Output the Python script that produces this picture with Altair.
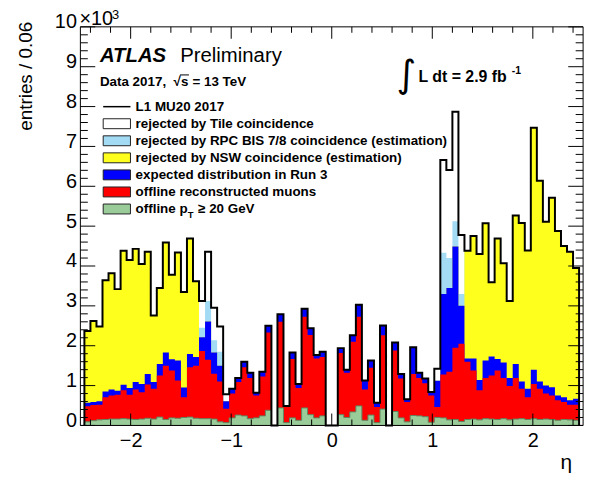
import altair as alt
import numpy as np
import pandas as pd

FONT = "Liberation Sans"

# ---------------- data: entries per 0.06 in eta, units of 10^3 ----------------
# black outline: L1 MU20 2017
total = [
    2.37, 2.62, 2.48, 3.64, 3.82, 3.42, 4.38, 4.15, 4.43, 4.05,
    4.36, 2.76, 3.45, 4.59, 3.78, 4.34, 3.35, 4.69, 3.62, 3.12,
    4.36, 2.95, 2.48, 0.78, 0.92, 1.19, 1.60, 1.32, 0.82, 1.35,
    2.50, 0.00, 2.79, 0.49, 1.83, 1.04, 2.93, 2.44, 1.77, 1.85,
    0.00, 0.00, 1.94, 1.40, 2.26, 3.03, 1.13, 1.63, 0.57, 2.51,
    0.00, 2.08, 1.29, 0.66, 1.96, 1.32, 1.18, 0.84, 1.42, 6.66,
    6.41, 7.87, 4.78, 4.38, 4.75, 4.30, 5.07, 3.59, 4.69, 4.07,
    3.12, 5.27, 5.08, 4.39, 7.47, 6.14, 5.11, 5.71, 4.88, 4.50,
    4.36, 3.95]
# after Tile coincidence (top of the RPC BIS 7/8 hatched band)
after_tile = [
    2.37, 2.62, 2.48, 3.64, 3.82, 3.42, 4.38, 4.15, 4.43, 4.05,
    4.36, 2.76, 3.45, 4.59, 3.78, 4.34, 3.35, 4.69, 3.62, 2.45,
    3.12, 2.14, 1.85, 0.61, 0.92, 1.19, 1.60, 1.32, 0.82, 1.35,
    2.50, 0.00, 2.79, 0.49, 1.83, 1.04, 2.93, 2.44, 1.77, 1.85,
    0.00, 0.00, 1.94, 1.40, 2.26, 3.03, 1.13, 1.63, 0.57, 2.51,
    0.00, 2.08, 1.29, 0.66, 1.96, 1.32, 1.18, 0.84, 1.12, 4.33,
    4.20, 5.12, 3.30, 4.38, 4.75, 4.30, 5.07, 3.59, 4.69, 4.07,
    3.12, 5.27, 5.08, 4.39, 7.47, 6.14, 5.11, 5.71, 4.88, 4.50,
    4.36, 3.95]
# after RPC BIS 7/8 coincidence (top of the NSW yellow band)
after_bis = [
    2.37, 2.62, 2.48, 3.64, 3.82, 3.42, 4.38, 4.15, 4.43, 4.05,
    4.36, 2.76, 3.45, 4.59, 3.78, 4.34, 3.35, 4.69, 3.62, 2.21,
    2.61, 1.83, 1.50, 0.61, 0.92, 1.19, 1.60, 1.32, 0.82, 1.35,
    2.50, 0.00, 2.79, 0.49, 1.83, 1.04, 2.93, 2.44, 1.77, 1.85,
    0.00, 0.00, 1.94, 1.40, 2.26, 3.03, 1.13, 1.63, 0.57, 2.51,
    0.00, 2.08, 1.29, 0.66, 1.96, 1.32, 1.18, 0.84, 1.12, 3.30,
    3.45, 4.49, 3.00, 4.38, 4.75, 4.30, 5.07, 3.59, 4.69, 4.07,
    3.12, 5.27, 5.08, 4.39, 7.47, 6.14, 5.11, 5.71, 4.88, 4.50,
    4.36, 3.95]
# expected distribution in Run 3
run3 = [
    0.57, 0.59, 0.61, 0.85, 0.90, 0.87, 1.02, 0.94, 1.09, 1.04,
    1.29, 1.09, 1.54, 1.83, 1.66, 1.63, 0.95, 1.79, 1.72, 2.21,
    2.61, 1.83, 1.50, 0.61, 0.92, 1.19, 1.60, 1.32, 0.82, 1.35,
    2.50, 0.00, 2.79, 0.49, 1.83, 1.04, 2.93, 2.44, 1.77, 1.85,
    0.00, 0.00, 1.94, 1.40, 2.26, 3.03, 1.13, 1.63, 0.57, 2.51,
    0.00, 2.08, 1.29, 0.66, 1.96, 1.32, 1.18, 0.84, 1.12, 3.30,
    3.45, 4.49, 3.00, 1.68, 1.68, 1.14, 1.63, 1.73, 1.67, 1.58,
    1.19, 1.54, 1.10, 0.92, 1.40, 1.10, 1.00, 0.96, 0.75, 0.71,
    0.63, 0.67]
# offline reconstructed muons
offline = [
    0.48, 0.51, 0.52, 0.71, 0.75, 0.77, 0.88, 0.77, 0.90, 0.83,
    1.03, 0.92, 1.25, 1.50, 1.38, 1.13, 0.71, 1.46, 1.50, 1.87,
    1.65, 1.30, 1.10, 0.42, 0.80, 1.09, 1.46, 1.19, 0.75, 1.23,
    2.33, 0.00, 2.60, 0.46, 1.67, 0.94, 2.73, 2.27, 1.68, 1.72,
    0.00, 0.00, 1.82, 1.32, 2.10, 2.73, 0.90, 1.45, 0.46, 2.26,
    0.00, 1.88, 1.18, 0.59, 1.29, 1.19, 1.06, 0.75, 0.46, 1.28,
    1.35, 1.95, 2.05, 1.60, 1.38, 0.88, 1.19, 1.25, 1.38, 1.19,
    0.99, 1.19, 0.92, 0.71, 1.04, 0.92, 0.80, 0.75, 0.63, 0.59,
    0.52, 0.52]
# offline pT >= 20 GeV
offline_pt20 = [
    0.09, 0.12, 0.14, 0.15, 0.16, 0.16, 0.17, 0.16, 0.15, 0.16,
    0.18, 0.16, 0.21, 0.15, 0.19, 0.18, 0.20, 0.21, 0.18, 0.17,
    0.17, 0.16, 0.09, 0.07, 0.19, 0.26, 0.24, 0.17, 0.19, 0.24,
    0.38, 0.00, 0.44, 0.07, 0.19, 0.13, 0.44, 0.27, 0.19, 0.24,
    0.00, 0.00, 0.27, 0.20, 0.34, 0.49, 0.13, 0.26, 0.07, 0.41,
    0.00, 0.35, 0.19, 0.09, 0.25, 0.24, 0.22, 0.08, 0.20, 0.19,
    0.14, 0.15, 0.10, 0.15, 0.16, 0.14, 0.17, 0.16, 0.15, 0.17,
    0.14, 0.16, 0.17, 0.15, 0.17, 0.15, 0.16, 0.15, 0.13, 0.15,
    0.14, 0.13]

legend_labels = [
    "L1 MU20 2017",
    "rejected by Tile coincidence",
    "rejected by RPC BIS 7/8 coincidence (estimation)",
    "rejected by NSW coincidence (estimation)",
    "expected distribution in Run 3",
    "offline reconstructed muons",
]
pt_label = ["offline p", "T", "\u2265 20 GeV"]

x_major = [-2, -1, 0, 1, 2]
y_major = list(range(0, 11))

# ---------------- styling ----------------
C_WHITE = "#ffffff"
C_CYAN = "#a3dbf5"
C_YELLOW = "#ffff1e"
C_BLUE = "#0000ff"
C_RED = "#ff0000"
C_GREEN = "#99cc99"

W, H = 507, 402
xs = alt.Scale(domain=[-2.5, 2.5], nice=False, zero=False)
ys = alt.Scale(domain=[0, 10], nice=False, zero=False)
xax = alt.Axis(values=x_major, format="d", title=None, ticks=False, domain=False,
               grid=False, labelFontSize=20, labelFont=FONT, labelPadding=5,
               labelFlush=False, labelColor="black")
yax = alt.Axis(values=y_major, format="d", title=None, ticks=False, domain=False,
               grid=False, labelFontSize=20, labelFont=FONT, labelPadding=4,
               labelOffset=-5, labelColor="black")

# ---------------- histogram frames ----------------
eta_lo, bin_w = -2.46, 0.06
n_bins = len(total)
edges = np.round(eta_lo + bin_w * np.arange(n_bins + 1), 3)

series = {"total": total, "after_tile": after_tile, "after_bis": after_bis,
          "run3": run3, "offline": offline, "pt20": offline_pt20}
hist = pd.DataFrame({"edge": edges})
for k, v in series.items():
    hist[k] = list(v) + [v[-1]]


def area(field, color):
    return alt.Chart(hist).mark_area(interpolate="step-after", color=color, opacity=1).encode(
        x=alt.X("edge:Q", scale=xs, axis=xax),
        y=alt.Y(f"{field}:Q", scale=ys, axis=yax),
        y2=alt.datum(0),
    )


def outline(vals, color, width):
    xs_ = [edges[0]] + list(edges) + [edges[-1]]
    ys_ = [0.0] + list(vals) + [vals[-1], 0.0]
    d = pd.DataFrame({"edge": xs_, "val": ys_, "i": range(len(xs_))})
    return alt.Chart(d).mark_line(interpolate="step-after", color=color,
                                  strokeWidth=width).encode(
        x=alt.X("edge:Q", scale=xs, axis=xax),
        y=alt.Y("val:Q", scale=ys, axis=yax),
        order="i:Q",
    )


layers = [
    area("total", C_WHITE),
    area("after_tile", C_CYAN),
    area("after_bis", C_YELLOW),
    area("run3", C_BLUE),
    area("offline", C_RED),
    area("pt20", C_GREEN),
    outline(offline_pt20, "#5f865f", 1),
    outline(total, "black", 2),
]

# ---------------- ticks (ROOT style, inside frame on all sides) ----------------
x_minor = [round(v, 1) for v in np.arange(-2.4, 2.41, 0.2) if abs(v - round(v)) > 1e-6]
y_minor = [round(v, 1) for v in np.arange(0, 10.01, 0.2) if abs(v - round(v)) > 1e-6]


def xticks(vals, ln):
    d = pd.DataFrame({"edge": vals})
    base = alt.Chart(d).mark_rule(color="black", strokeWidth=1)
    X = alt.X("edge:Q", scale=xs, axis=xax)
    return [base.encode(x=X, y=alt.value(H), y2=alt.value(H - ln)),
            base.encode(x=X, y=alt.value(0), y2=alt.value(ln))]


def yticks(vals, ln):
    d = pd.DataFrame({"val": vals})
    base = alt.Chart(d).mark_rule(color="black", strokeWidth=1)
    Y = alt.Y("val:Q", scale=ys, axis=yax)
    return [base.encode(y=Y, x=alt.value(0), x2=alt.value(ln)),
            base.encode(y=Y, x=alt.value(W - ln), x2=alt.value(W))]


layers += xticks(x_major, 12) + xticks(x_minor, 6) + yticks(y_major, 15) + yticks(y_minor, 7.5)

one = pd.DataFrame({"a": [0]})
frame = alt.Chart(one).mark_rule(color="black", strokeWidth=1)
layers += [
    frame.encode(x=alt.value(0), x2=alt.value(W), y=alt.value(0)),
    frame.encode(x=alt.value(0), x2=alt.value(W), y=alt.value(H)),
    frame.encode(x=alt.value(0), y=alt.value(0), y2=alt.value(H)),
    frame.encode(x=alt.value(W), y=alt.value(0), y2=alt.value(H)),
]


def text(t, px, py, size=13.5, weight="bold", style="normal", align="left",
         baseline="alphabetic", angle=0, font=FONT):
    return alt.Chart(one).mark_text(text=t, fontSize=size, fontWeight=weight,
                                    fontStyle=style, align=align, baseline=baseline,
                                    angle=angle, font=font, color="black").encode(
        x=alt.value(px), y=alt.value(py))


# axis titles and exponent
layers += [
    text("entries / 0.06", -55, -5, size=19, weight="normal", align="right",
         baseline="middle", angle=270),
    text("\u03b7", 496, 446, size=21, weight="normal", align="right"),
    text("\u00d710", -1, -2, size=20, weight="normal"),
    text("3", 32, -8, size=13, weight="normal"),
]

# ATLAS label, data / energy line, luminosity
layers += [
    text("ATLAS", 19.7, 35, size=20.5, weight="bold", style="italic"),
    text("Preliminary", 100.7, 35, size=20.5, weight="normal"),
    text("Data 2017,", 19.7, 60, size=13.5),
    text("\u221a", 94, 60, size=13.5),
    text("s", 101.5, 60, size=13.5),
    alt.Chart(one).mark_rule(color="black", strokeWidth=1).encode(
        x=alt.value(100.5), x2=alt.value(109.5), y=alt.value(48.5)),
    text("= 13 TeV", 113, 60, size=13.5),
    text("\u222b", 329, 50, size=38, weight="normal", align="center", baseline="middle",
         font="DejaVu Sans"),
    text("L dt = 2.9 fb", 341, 56, size=16),
    text("-1", 435, 48, size=10.5),
]

# legend
row0, dy = 80.5, 17.2
bx0, bx1, tx = 23, 50.5, 55.7
box_fill = [None, C_WHITE, C_CYAN, C_YELLOW, C_BLUE, C_RED, C_GREEN]
for k in range(7):
    ry = row0 + dy * k
    if k == 0:
        layers.append(alt.Chart(one).mark_rule(color="black", strokeWidth=1.5).encode(
            x=alt.value(bx0), x2=alt.value(bx1), y=alt.value(ry)))
    else:
        layers.append(alt.Chart(one).mark_rect(fill=box_fill[k], stroke="#222222",
                                               strokeWidth=1).encode(
            x=alt.value(bx0), x2=alt.value(bx1), y=alt.value(ry - 5), y2=alt.value(ry + 5)))
    if k < 6:
        layers.append(text(legend_labels[k], tx, ry, baseline="middle"))
ry = row0 + dy * 6
layers += [
    text(pt_label[0], tx, ry, baseline="middle"),
    text(pt_label[1], tx + 52.5, ry + 6, size=9.5, baseline="middle"),
    text(pt_label[2], tx + 63, ry, baseline="middle"),
]

chart = alt.layer(*layers).properties(
    width=W, height=H,
    padding={"left": 73, "top": 17, "right": 12, "bottom": 52},
    autosize=alt.AutoSizeParams(type="none"),
    background="white",
).configure_view(stroke=None)

chart.save("out.html", embed_options={"renderer": "svg", "actions": False})
